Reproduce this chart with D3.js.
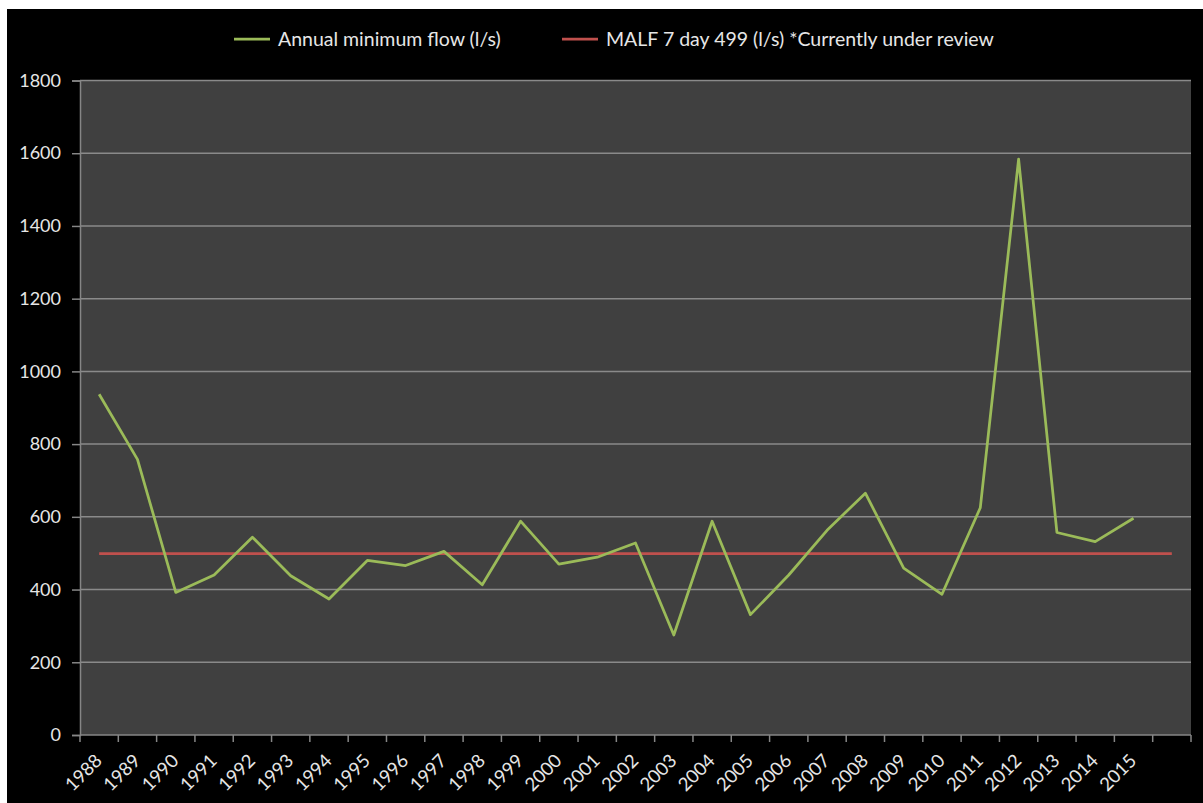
<!DOCTYPE html>
<html>
<head>
<meta charset="utf-8">
<script src="https://cdn.jsdelivr.net/npm/d3@7"></script>
<style>
  html, body { margin: 0; padding: 0; background: #ffffff; }
  svg { display: block; }
  text { font-family: Lato, "Noto Sans", sans-serif; }
</style>
</head>
<body>
<svg id="chart" width="1203" height="803"></svg>
<script>
// ---- Data ----
const categories = ["1988","1989","1990","1991","1992","1993","1994","1995","1996","1997",
  "1998","1999","2000","2001","2002","2003","2004","2005","2006","2007",
  "2008","2009","2010","2011","2012","2013","2014","2015",""];
const annualMinFlow = [937, 758, 392, 440, 544, 438, 374, 480, 466, 505,
  413, 588, 470, 489, 528, 275, 588, 331, 440, 563,
  665, 459, 387, 625, 1584, 557, 532, 596, null];
const malf = categories.map(() => 499);
const yTicks = [0, 200, 400, 600, 800, 1000, 1200, 1400, 1600, 1800];
const seriesNames = ["Annual minimum flow (l/s)", "MALF 7 day 499 (l/s) *Currently under review"];
const seriesColors = ["#9bbb59", "#c0504d"];

// ---- Layout ----
const W = 1203, H = 803;
const plot = { left: 80, right: 1191, top: 80.5, bottom: 735 };

const svg = d3.select("#chart");
svg.append("rect").attr("x", 0).attr("y", 0).attr("width", W).attr("height", H).attr("fill", "#ffffff");
svg.append("rect").attr("x", 7).attr("y", 9).attr("width", W - 7).attr("height", H - 9).attr("fill", "#000000");

const x = d3.scaleBand().domain(categories.map((c, i) => i)).range([plot.left, plot.right]).padding(0);
const cx = i => x(i) + x.bandwidth() / 2;
const y = d3.scaleLinear().domain([0, 1800]).range([plot.bottom, plot.top]);

// plot area
svg.append("rect")
  .attr("x", plot.left).attr("y", plot.top)
  .attr("width", plot.right - plot.left).attr("height", plot.bottom - plot.top)
  .attr("fill", "#404040");

// gridlines
svg.append("g").selectAll("line").data(yTicks.filter(t => t > 0)).join("line")
  .attr("x1", plot.left).attr("x2", plot.right)
  .attr("y1", d => y(d)).attr("y2", d => y(d))
  .attr("stroke", "#8a8a8a").attr("stroke-width", 1.5);

// y axis
const yAxis = d3.axisLeft(y).tickValues(yTicks).tickSize(8).tickPadding(11).tickFormat(d3.format("d"));
const gy = svg.append("g").attr("transform", `translate(${plot.left},0)`).call(yAxis);
gy.select(".domain").attr("stroke", "#868686").attr("stroke-width", 1.5);
gy.selectAll(".tick line").attr("stroke", "#868686").attr("stroke-width", 1.5);
gy.selectAll(".tick text").attr("fill", "#e6e6e6").attr("font-size", 18)
  .style("font-family", "Lato, 'Noto Sans', sans-serif");

// x axis: ticks between categories
const tickPos = d3.range(categories.length + 1).map(i => i === categories.length ? plot.right : x(i));
const gx = svg.append("g");
gx.append("line").attr("x1", plot.left).attr("x2", plot.right)
  .attr("y1", plot.bottom).attr("y2", plot.bottom)
  .attr("stroke", "#868686").attr("stroke-width", 1.5);
gx.selectAll("line.tk").data(tickPos).join("line").attr("class", "tk")
  .attr("x1", d => d).attr("x2", d => d)
  .attr("y1", plot.bottom).attr("y2", plot.bottom + 7)
  .attr("stroke", "#868686").attr("stroke-width", 1.5);
gx.selectAll("text").data(categories).join("text")
  .attr("transform", (d, i) => `translate(${cx(i) + 4},${plot.bottom + 27}) rotate(-45)`)
  .attr("text-anchor", "end")
  .attr("fill", "#e6e6e6").attr("font-size", 18.5)
  .text(d => d);

// lines
const lineGen = d3.line().defined(d => d.v != null).x(d => cx(d.i)).y(d => y(d.v));
svg.append("path")
  .datum(malf.map((v, i) => ({ i, v })))
  .attr("d", lineGen).attr("fill", "none")
  .attr("stroke", seriesColors[1]).attr("stroke-width", 2.75);
svg.append("path")
  .datum(annualMinFlow.map((v, i) => ({ i, v })))
  .attr("d", lineGen).attr("fill", "none")
  .attr("stroke", seriesColors[0]).attr("stroke-width", 2.75)
  .attr("stroke-linejoin", "round");

// legend
const legendItems = [
  { name: seriesNames[0], color: seriesColors[0], x: 234 },
  { name: seriesNames[1], color: seriesColors[1], x: 562 }
];
const lg = svg.append("g").selectAll("g").data(legendItems).join("g")
  .attr("transform", d => `translate(${d.x},39)`);
lg.append("line").attr("x1", 0).attr("x2", 36).attr("y1", 0).attr("y2", 0)
  .attr("stroke", d => d.color).attr("stroke-width", 2.75);
lg.append("text").attr("x", 44).attr("y", 6.5).attr("fill", "#e6e6e6").attr("font-size", 19.5)
  .text(d => d.name);
</script>
</body>
</html>
